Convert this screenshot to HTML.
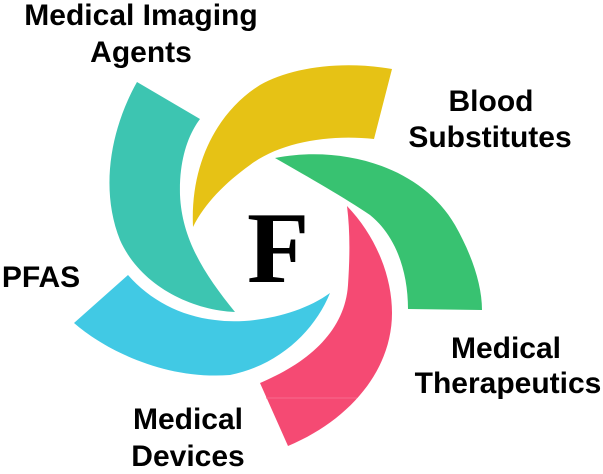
<!DOCTYPE html>
<html>
<head>
<meta charset="utf-8">
<style>
  html, body { margin: 0; padding: 0; background: #ffffff; }
  body { width: 603px; height: 474px; overflow: hidden; }
  svg { display: block; }
  .lbl { font-family: "Liberation Sans", Arial, sans-serif; font-weight: bold; font-size: 30px; fill: #000; }
  .f { font-family: "Liberation Serif", "Times New Roman", serif; font-weight: bold; font-size: 102px; fill: #000; }
</style>
</head>
<body>
<svg width="603" height="474" viewBox="0 0 603 474" xmlns="http://www.w3.org/2000/svg">
  <rect width="603" height="474" fill="#ffffff"/>

  <!-- Teal petal -->
  <path d="M137,82 L200,119 C188,135 179,160 180,195 C182,240 205,275 235,312 C190,310 140,285 120,240 C100,190 110,130 137,82 Z" fill="#3dc5b1"/>

  <!-- Yellow petal -->
  <path d="M193,227 C190,160 220,110 260,85 C290,68 340,60 392,69 L374,139 C330,134 280,142 250,165 C225,183 205,203 193,227 Z" fill="#e6c215"/>

  <!-- Green petal -->
  <path d="M275,158 C340,145 420,165 455,225 C472,255 482,285 482,310 L408,309 C408,270 395,235 370,215 C345,198 310,178 275,158 Z" fill="#38c271"/>

  <!-- Pink petal -->
  <path d="M347,206 C375,235 392,275 392,313 C392,370 350,420 288,446 L260,383 C310,362 345,330 348,285 C350,255 350,230 347,206 Z" fill="#f54a73"/>
  <line x1="266" y1="398" x2="357" y2="398" stroke="#f76b8d" stroke-width="1"/>

  <!-- Blue petal -->
  <path d="M128,275 L74,323 C105,350 165,380 230,375 C280,365 315,330 330,293 C300,315 250,325 215,320 C180,316 150,300 128,275 Z" fill="#41c9e4"/>

  <!-- Center letter -->
  <text class="f" x="247" y="282">F</text>

  <!-- Labels -->
  <text class="lbl" x="141" y="25" text-anchor="middle">Medical Imaging</text>
  <text class="lbl" x="141" y="62" text-anchor="middle">Agents</text>

  <text class="lbl" x="491" y="111" text-anchor="middle">Blood</text>
  <text class="lbl" x="490" y="147" text-anchor="middle">Substitutes</text>

  <text class="lbl" x="41" y="287" text-anchor="middle">PFAS</text>

  <text class="lbl" x="506" y="358" text-anchor="middle">Medical</text>
  <text class="lbl" x="508" y="393" text-anchor="middle">Therapeutics</text>

  <text class="lbl" x="188" y="429" text-anchor="middle">Medical</text>
  <text class="lbl" x="188" y="466" text-anchor="middle">Devices</text>
</svg>
</body>
</html>
